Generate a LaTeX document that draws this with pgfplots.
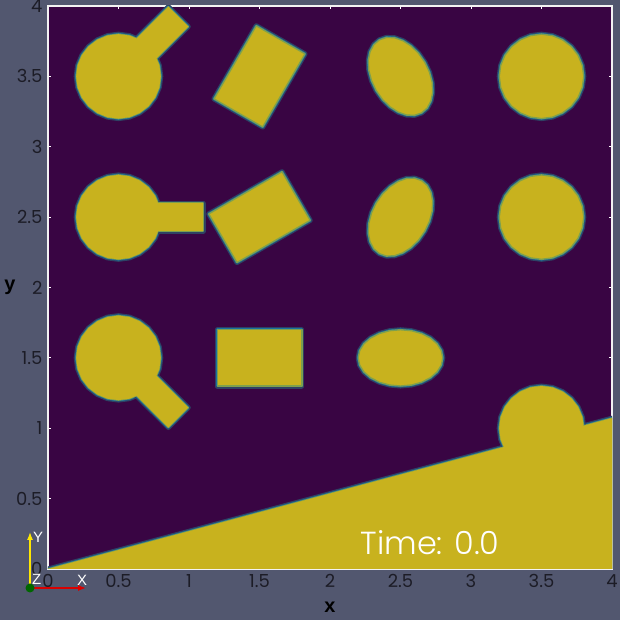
\documentclass[border=0pt]{standalone}
\usepackage{pgfplots}
\pgfplotsset{compat=1.18}
\usepackage{pgfplotstable}
\usetikzlibrary{arrows.meta}
\usepackage{fontspec}
\setmainfont{Poppins}
\newfontfamily\lightfont{Poppins}[UprightFont=* Light]
\newfontfamily\triadfont{Liberation Sans}
\newfontfamily\labfont{Liberation Sans}
\definecolor{bgc}{RGB}{82,87,111}
\definecolor{purp}{RGB}{57,5,67}
\definecolor{yel}{RGB}{200,178,30}
\definecolor{tealc}{RGB}{32,138,138}
\definecolor{ticklab}{RGB}{28,28,38}

% shapes (outline points)
\pgfplotstableread{
x y
0 0
4 0
4 1.0718
}\lowreg
\pgfplotstableread{
x y
0.8 3.5
0.7898 3.5776
0.7598 3.65
0.7121 3.7121
0.65 3.7598
0.5776 3.7898
0.5 3.8
0.4224 3.7898
0.35 3.7598
0.2879 3.7121
0.2402 3.65
0.2102 3.5776
0.2 3.5
0.2102 3.4224
0.2402 3.35
0.2879 3.2879
0.35 3.2402
0.4224 3.2102
0.5 3.2
0.5776 3.2102
0.65 3.2402
0.7121 3.2879
0.7598 3.35
0.7898 3.4224
}\cA
\pgfplotstableread{
x y
3.8 3.5
3.7898 3.5776
3.7598 3.65
3.7121 3.7121
3.65 3.7598
3.5776 3.7898
3.5 3.8
3.4224 3.7898
3.35 3.7598
3.2879 3.7121
3.2402 3.65
3.2102 3.5776
3.2 3.5
3.2102 3.4224
3.2402 3.35
3.2879 3.2879
3.35 3.2402
3.4224 3.2102
3.5 3.2
3.5776 3.2102
3.65 3.2402
3.7121 3.2879
3.7598 3.35
3.7898 3.4224
}\cB
\pgfplotstableread{
x y
0.8 2.5
0.7898 2.5776
0.7598 2.65
0.7121 2.7121
0.65 2.7598
0.5776 2.7898
0.5 2.8
0.4224 2.7898
0.35 2.7598
0.2879 2.7121
0.2402 2.65
0.2102 2.5776
0.2 2.5
0.2102 2.4224
0.2402 2.35
0.2879 2.2879
0.35 2.2402
0.4224 2.2102
0.5 2.2
0.5776 2.2102
0.65 2.2402
0.7121 2.2879
0.7598 2.35
0.7898 2.4224
}\cC
\pgfplotstableread{
x y
3.8 2.5
3.7898 2.5776
3.7598 2.65
3.7121 2.7121
3.65 2.7598
3.5776 2.7898
3.5 2.8
3.4224 2.7898
3.35 2.7598
3.2879 2.7121
3.2402 2.65
3.2102 2.5776
3.2 2.5
3.2102 2.4224
3.2402 2.35
3.2879 2.2879
3.35 2.2402
3.4224 2.2102
3.5 2.2
3.5776 2.2102
3.65 2.2402
3.7121 2.2879
3.7598 2.35
3.7898 2.4224
}\cD
\pgfplotstableread{
x y
0.8 1.5
0.7898 1.5776
0.7598 1.65
0.7121 1.7121
0.65 1.7598
0.5776 1.7898
0.5 1.8
0.4224 1.7898
0.35 1.7598
0.2879 1.7121
0.2402 1.65
0.2102 1.5776
0.2 1.5
0.2102 1.4224
0.2402 1.35
0.2879 1.2879
0.35 1.2402
0.4224 1.2102
0.5 1.2
0.5776 1.2102
0.65 1.2402
0.7121 1.2879
0.7598 1.35
0.7898 1.4224
}\cE
\pgfplotstableread{
x y
3.8 1.0
3.7898 1.0776
3.7598 1.15
3.7121 1.2121
3.65 1.2598
3.5776 1.2898
3.5 1.3
3.4224 1.2898
3.35 1.2598
3.2879 1.2121
3.2402 1.15
3.2102 1.0776
3.2 1.0
3.2102 0.9224
3.2402 0.85
3.2879 0.7879
3.35 0.7402
3.4224 0.7102
3.5 0.7
3.5776 0.7102
3.65 0.7402
3.7121 0.7879
3.7598 0.85
3.7898 0.9224
}\cF
\pgfplotstableread{
x y
2.35 3.7598
2.4 3.7769
2.4567 3.775
2.5164 3.7544
2.575 3.7165
2.6285 3.6638
2.6732 3.6
2.7061 3.5294
2.725 3.4567
2.7286 3.387
2.7165 3.325
2.6898 3.2749
2.65 3.2402
2.6 3.2231
2.5433 3.225
2.4836 3.2456
2.425 3.2835
2.3715 3.3362
2.3268 3.4
2.2939 3.4706
2.275 3.5433
2.2714 3.613
2.2835 3.675
2.3102 3.7251
}\eA
\pgfplotstableread{
x y
2.65 2.7598
2.6 2.7769
2.5433 2.775
2.4836 2.7544
2.425 2.7165
2.3715 2.6638
2.3268 2.6
2.2939 2.5294
2.275 2.4567
2.2714 2.387
2.2835 2.325
2.3102 2.2749
2.35 2.2402
2.4 2.2231
2.4567 2.225
2.5164 2.2456
2.575 2.2835
2.6285 2.3362
2.6732 2.4
2.7061 2.4706
2.725 2.5433
2.7286 2.613
2.7165 2.675
2.6898 2.7251
}\eB
\pgfplotstableread{
x y
2.8 1.5
2.7898 1.5518
2.7598 1.6
2.7121 1.6414
2.65 1.6732
2.5776 1.6932
2.5 1.7
2.4224 1.6932
2.35 1.6732
2.2879 1.6414
2.2402 1.6
2.2102 1.5518
2.2 1.5
2.2102 1.4482
2.2402 1.4
2.2879 1.3586
2.35 1.3268
2.4224 1.3068
2.5 1.3
2.5776 1.3068
2.65 1.3268
2.7121 1.3586
2.7598 1.4
2.7898 1.4482
}\eC
\pgfplotstableread{
x y
1.477 3.86
1.823 3.66
1.523 3.14
1.177 3.34
}\rA
\pgfplotstableread{
x y
1.66 2.823
1.86 2.477
1.34 2.177
1.14 2.523
}\rB
\pgfplotstableread{
x y
1.2 1.3
1.8 1.3
1.8 1.7
1.2 1.7
}\rC
\pgfplotstableread{
x y
0.4293 3.5707
0.8536 3.9950
0.9950 3.8536
0.5707 3.4293
}\sA
\pgfplotstableread{
x y
0.5 2.4
1.1 2.4
1.1 2.6
0.5 2.6
}\sB
\pgfplotstableread{
x y
0.4293 1.4293
0.8536 1.0050
0.9950 1.1464
0.5707 1.5707
}\sC

\pgfplotsset{
  edge/.style={draw=tealc!80!blue, line width=2.6bp, line join=round,
    preaction={draw=tealc!45!purp, line width=5bp, line join=round}},
  body/.style={fill=yel, draw=yel!55!tealc, line width=1.4bp, line join=round},
  cover/.style={fill=yel, draw=none},
}

\begin{document}
\begin{tikzpicture}
\useasboundingbox (0,0) rectangle (620bp,620bp);
\fill[bgc] (0,0) rectangle (620bp,620bp);
\begin{axis}[
  at={(48bp,51bp)}, anchor=south west,
  scale only axis, width=564bp, height=563bp,
  xmin=0, xmax=4, ymin=0, ymax=4,
  xtick={0,0.5,...,4}, ytick={0,0.5,...,4},
  xticklabels={0,0.5,1,1.5,2,2.5,3,3.5,4},
  yticklabels={0,0.5,1,1.5,2,2.5,3,3.5,4},
  axis background/.style={fill=purp},
  axis line style={draw=white!90!gray, line width=1.2bp},
  major tick style={draw=white, line width=1bp},
  major tick length=3bp,
  tick label style={font=\fontsize{18}{20}\selectfont, text=ticklab},
  xticklabel style={yshift=-2bp},
  yticklabel style={xshift=-2bp},
  xlabel={\labfont\bfseries x}, ylabel={\labfont\bfseries y},
  xlabel style={font=\fontsize{20}{22}\selectfont, text=black,
    at={(axis description cs:0.5,0)}, anchor=center, yshift=-38bp},
  ylabel style={font=\fontsize{20}{22}\selectfont, text=black, rotate=-90,
    at={(axis description cs:0,0.5)}, anchor=center, xshift=-38bp},
  clip=true,
  /pgf/number format/assume math mode=true,
]
% outline layer
\addplot[edge] table {\lowreg} -- cycle;
\addplot[edge] table {\cA} -- cycle;
\addplot[edge] table {\cB} -- cycle;
\addplot[edge] table {\cC} -- cycle;
\addplot[edge] table {\cD} -- cycle;
\addplot[edge] table {\cE} -- cycle;
\addplot[edge] table {\cF} -- cycle;
\addplot[edge] table {\eA} -- cycle;
\addplot[edge] table {\eB} -- cycle;
\addplot[edge] table {\eC} -- cycle;
\addplot[edge] table {\rA} -- cycle;
\addplot[edge] table {\rB} -- cycle;
\addplot[edge] table {\rC} -- cycle;
\addplot[edge] table {\sA} -- cycle;
\addplot[edge] table {\sB} -- cycle;
\addplot[edge] table {\sC} -- cycle;
% fill layer
\addplot[body] table {\lowreg} -- cycle;
\addplot[body] table {\cA} -- cycle;
\addplot[body] table {\cB} -- cycle;
\addplot[body] table {\cC} -- cycle;
\addplot[body] table {\cD} -- cycle;
\addplot[body] table {\cE} -- cycle;
\addplot[body] table {\cF} -- cycle;
\addplot[body] table {\eA} -- cycle;
\addplot[body] table {\eB} -- cycle;
\addplot[body] table {\eC} -- cycle;
\addplot[body] table {\rA} -- cycle;
\addplot[body] table {\rB} -- cycle;
\addplot[body] table {\rC} -- cycle;
\addplot[body] table {\sA} -- cycle;
\addplot[body] table {\sB} -- cycle;
\addplot[body] table {\sC} -- cycle;
% cover inner seams of merged shapes
\addplot[cover] table {\lowreg} -- cycle;
\addplot[cover] table {\cF} -- cycle;
\addplot[cover] table {\cA} -- cycle;
\addplot[cover] table {\sA} -- cycle;
\addplot[cover] table {\cC} -- cycle;
\addplot[cover] table {\sB} -- cycle;
\addplot[cover] table {\cE} -- cycle;
\addplot[cover] table {\sC} -- cycle;
\node[anchor=base, text=white, font=\lightfont\fontsize{32}{34}\selectfont] at (axis cs:2.71,0.1) {Time: 0.0};
\end{axis}
% orientation triad
\draw[yellow!90!orange, line width=1.2bp, -{Latex[length=8bp,width=6bp]}] (30bp,32bp) -- (30bp,88bp);
\draw[red!85!black, line width=1.2bp, -{Latex[length=8bp,width=6bp]}] (30bp,32bp) -- (86bp,32bp);
\fill[green!40!black] (30bp,32bp) circle (4.5bp);
\node[anchor=west, text=white, font=\triadfont\fontsize{15}{15}\selectfont, inner sep=0pt] at (33bp,83bp) {Y};
\node[anchor=west, text=white, font=\triadfont\fontsize{15}{15}\selectfont, inner sep=0pt] at (32bp,41bp) {Z};
\node[anchor=west, text=white, font=\triadfont\fontsize{15}{15}\selectfont, inner sep=0pt] at (77bp,40bp) {X};
\end{tikzpicture}
\end{document}
